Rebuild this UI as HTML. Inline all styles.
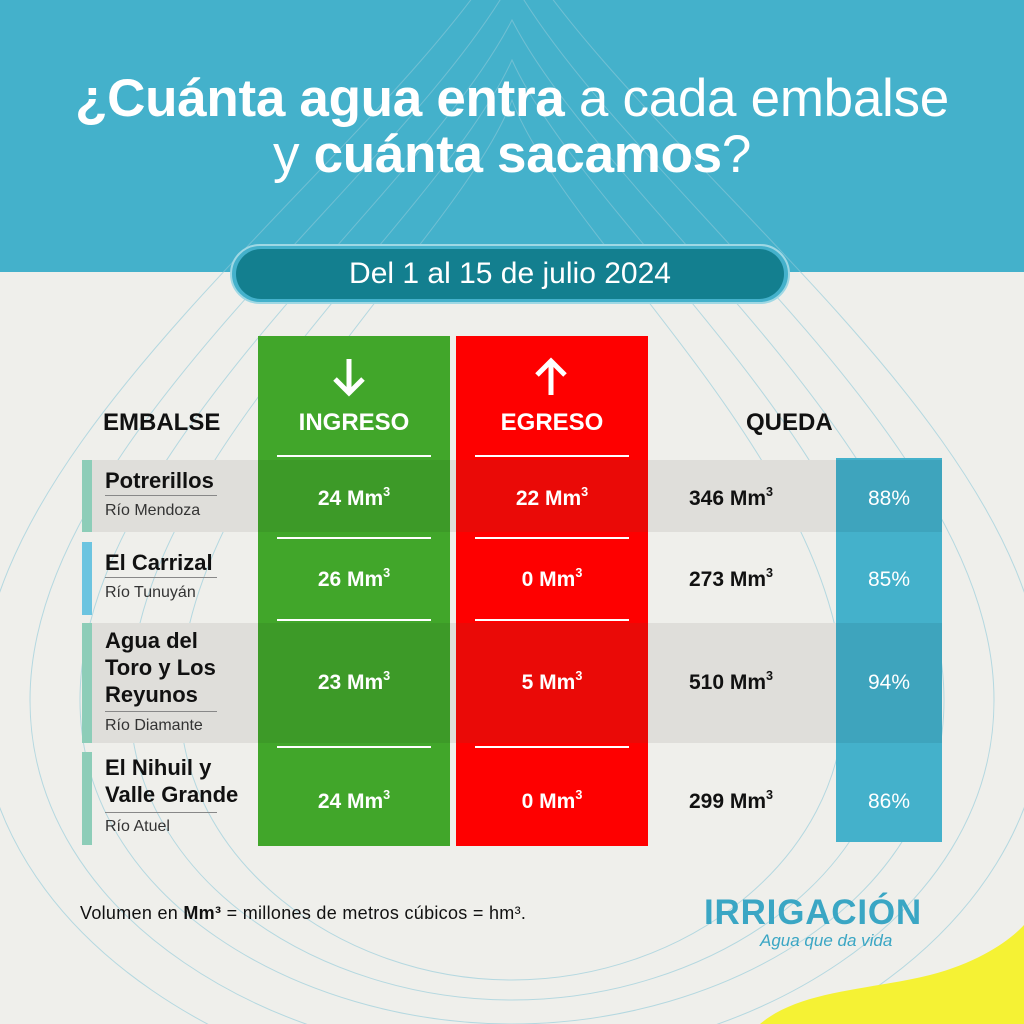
<!DOCTYPE html>
<html><head><meta charset="utf-8"><style>
*{margin:0;padding:0;box-sizing:border-box}
html,body{width:1024px;height:1024px;overflow:hidden}
body{background:#efefeb;font-family:"Liberation Sans",sans-serif;position:relative}
.a{position:absolute}
.t{color:#fff;font-size:53px;text-align:center;width:1024px;left:0;letter-spacing:-0.3px}
.h{font-weight:bold;font-size:24px;color:#111}
.v{font-weight:bold;font-size:21px;text-align:center;width:192px}
.w{color:#fff}
.n{left:105px;font-weight:bold;font-size:22px;color:#111;line-height:27px}
.r{left:105px;font-size:16px;color:#333}
.ul{left:105px;width:112px;height:1px;background:#888}
.wl{height:2px;background:#fff}
sup{font-size:60%;vertical-align:top;position:relative;top:-2px}
</style></head><body>
<div class="a" style="left:0;top:0;width:1024px;height:272px;background:#44b1cb"></div>
<svg class="a" style="left:0;top:0" width="1024" height="1024">
<g fill="none" stroke="#8ec9d9" stroke-width="1" opacity="0.6">
<path d="M512 20 C420 200 80 450 80 700 C80 900 300 1024 512 1024 C724 1024 944 900 944 700 C944 450 604 200 512 20Z"/>
<path d="M512 60 C440 220 130 460 130 700 C130 880 320 1000 512 1000 C704 1000 894 880 894 700 C894 460 584 220 512 60Z"/>
<path d="M512 100 C460 240 180 470 180 700 C180 860 340 980 512 980 C684 980 844 860 844 700 C844 470 564 240 512 100Z"/>
<path d="M512 -20 C400 180 30 440 30 700 C30 920 280 1060 512 1060 C744 1060 994 920 994 700 C994 440 624 180 512 -20Z"/>
<path d="M512 -60 C380 160 -20 430 -20 700 C-20 940 260 1100 512 1100 C764 1100 1044 940 1044 700 C1044 430 644 160 512 -60Z"/>
</g>
<path d="M760 1024 C800 990 870 990 930 975 C980 962 1010 940 1024 925 L1024 1024Z" fill="#f5f234"/>
</svg>
<div class="a t" style="top:68px"><b>¿Cuánta agua entra</b> a cada embalse</div>
<div class="a t" style="top:124px">y <b>cuánta sacamos</b>?</div>
<div class="a" style="left:230px;top:244px;width:560px;height:60px;border:2px solid #9fd8e4;border-radius:30px;background:#44b1cb"></div>
<div class="a" style="left:236px;top:249px;width:548px;height:50px;border-radius:25px;background:#137f8f;color:#fff;font-size:30px;text-align:center;line-height:50px">Del 1 al 15 de julio 2024</div>
<div class="a" style="left:82px;top:460px;width:760px;height:72px;background:#dfdeda"></div>
<div class="a" style="left:82px;top:623px;width:760px;height:120px;background:#dfdeda"></div>
<div class="a" style="left:82px;top:460px;width:10px;height:72px;background:#8dcdb8"></div>
<div class="a" style="left:82px;top:542px;width:10px;height:73px;background:#6cc4e0"></div>
<div class="a" style="left:82px;top:623px;width:10px;height:120px;background:#8dcdb8"></div>
<div class="a" style="left:82px;top:752px;width:10px;height:93px;background:#8dcdb8"></div>
<div class="a" style="left:258px;top:336px;width:192px;height:510px;background:#41a62a"></div>
<div class="a" style="left:258px;top:460px;width:192px;height:72px;background:#3d9a28"></div>
<div class="a" style="left:258px;top:623px;width:192px;height:120px;background:#3d9a28"></div>
<div class="a" style="left:456px;top:336px;width:192px;height:510px;background:#fe0000"></div>
<div class="a" style="left:456px;top:460px;width:192px;height:72px;background:#ea0a07"></div>
<div class="a" style="left:456px;top:623px;width:192px;height:120px;background:#ea0a07"></div>
<div class="a" style="left:836px;top:458px;width:106px;height:384px;background:#44b1cb"></div>
<div class="a" style="left:836px;top:460px;width:106px;height:72px;background:#3ea4bd"></div>
<div class="a" style="left:836px;top:623px;width:106px;height:120px;background:#3ea4bd"></div>
<svg class="a" style="left:329px;top:355px" width="40" height="44"><path d="M20 4 V38 M6 24 L20 38 L34 24" stroke="#fff" stroke-width="5" fill="none"/></svg>
<svg class="a" style="left:531px;top:355px" width="40" height="44"><path d="M20 40 V6 M6 20 L20 6 L34 20" stroke="#fff" stroke-width="5" fill="none"/></svg>
<div class="a h" style="left:103px;top:409px">EMBALSE</div>
<div class="a h w" style="left:258px;top:409px;width:192px;text-align:center">INGRESO</div>
<div class="a h w" style="left:456px;top:409px;width:192px;text-align:center">EGRESO</div>
<div class="a h" style="left:746px;top:409px">QUEDA</div>
<div class="a wl" style="left:277px;top:455px;width:154px"></div>
<div class="a wl" style="left:475px;top:455px;width:154px"></div>
<div class="a wl" style="left:277px;top:537px;width:154px"></div>
<div class="a wl" style="left:475px;top:537px;width:154px"></div>
<div class="a wl" style="left:277px;top:619px;width:154px"></div>
<div class="a wl" style="left:475px;top:619px;width:154px"></div>
<div class="a wl" style="left:277px;top:746px;width:154px"></div>
<div class="a wl" style="left:475px;top:746px;width:154px"></div>
<div class="a n" style="top:467px">Potrerillos</div><div class="a ul" style="top:495px"></div><div class="a r" style="top:502px">Río Mendoza</div>
<div class="a n" style="top:549px">El Carrizal</div><div class="a ul" style="top:577px"></div><div class="a r" style="top:584px">Río Tunuyán</div>
<div class="a n" style="top:627px">Agua del<br>Toro y Los<br>Reyunos</div><div class="a ul" style="top:711px"></div><div class="a r" style="top:717px">Río Diamante</div>
<div class="a n" style="top:754px">El Nihuil y<br>Valle Grande</div><div class="a ul" style="top:812px"></div><div class="a r" style="top:818px">Río Atuel</div>
<div class="a v w" style="left:258px;top:487px">24 Mm<sup>3</sup></div>
<div class="a v w" style="left:258px;top:568px">26 Mm<sup>3</sup></div>
<div class="a v w" style="left:258px;top:671px">23 Mm<sup>3</sup></div>
<div class="a v w" style="left:258px;top:790px">24 Mm<sup>3</sup></div>
<div class="a v w" style="left:456px;top:487px">22 Mm<sup>3</sup></div>
<div class="a v w" style="left:456px;top:568px">0 Mm<sup>3</sup></div>
<div class="a v w" style="left:456px;top:671px">5 Mm<sup>3</sup></div>
<div class="a v w" style="left:456px;top:790px">0 Mm<sup>3</sup></div>
<div class="a v" style="left:635px;top:487px;color:#111">346 Mm<sup>3</sup></div>
<div class="a v" style="left:635px;top:568px;color:#111">273 Mm<sup>3</sup></div>
<div class="a v" style="left:635px;top:671px;color:#111">510 Mm<sup>3</sup></div>
<div class="a v" style="left:635px;top:790px;color:#111">299 Mm<sup>3</sup></div>
<div class="a w" style="left:836px;top:487px;width:106px;text-align:center;font-size:21px">88%</div>
<div class="a w" style="left:836px;top:568px;width:106px;text-align:center;font-size:21px">85%</div>
<div class="a w" style="left:836px;top:671px;width:106px;text-align:center;font-size:21px">94%</div>
<div class="a w" style="left:836px;top:790px;width:106px;text-align:center;font-size:21px">86%</div>
<div class="a" style="left:80px;top:903px;font-size:18px;color:#111;letter-spacing:0.3px;white-space:nowrap">Volumen en <b>Mm³</b> = millones de metros cúbicos = hm³.</div>
<div class="a" style="left:704px;top:893px;font-size:35px;font-weight:bold;color:#3aa6c4;letter-spacing:0.8px">IRRIGACIÓN</div>
<div class="a" style="left:760px;top:931px;font-size:17px;font-style:italic;color:#3aa6c4">Agua que da vida</div>
</body></html>
